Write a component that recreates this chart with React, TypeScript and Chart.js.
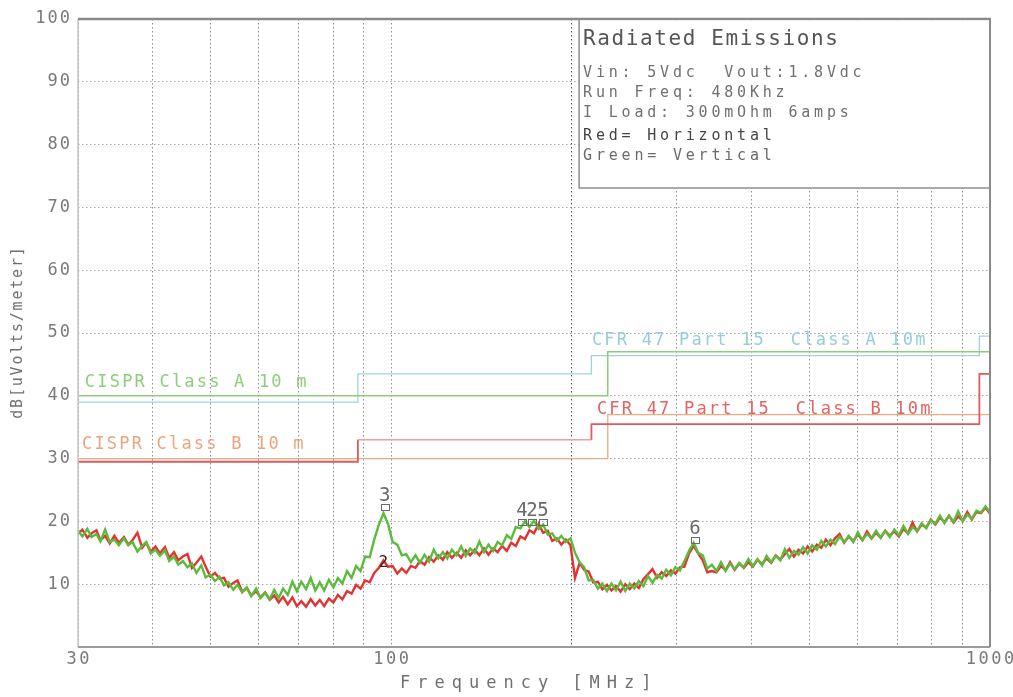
import React, { useEffect, useRef } from 'react';
import { Chart, registerables } from 'chart.js';

Chart.register(...registerables);

const FONT = '"DejaVu Sans Mono", "Liberation Mono", monospace';

// ---------------- data ----------------
const freqs = [
  30.0, 30.5, 31.1, 31.6, 32.2, 32.7, 33.3, 33.9, 34.5, 35.1,
  35.8, 36.4, 37.0, 37.7, 38.4, 39.0, 39.7, 40.4, 41.1, 41.9,
  42.6, 43.4, 44.1, 44.9, 45.7, 46.5, 47.3, 48.2, 49.0, 49.9,
  50.8, 51.7, 52.6, 53.5, 54.5, 55.4, 56.4, 57.4, 58.4, 59.5,
  60.5, 61.6, 62.7, 63.8, 64.9, 66.0, 67.2, 68.4, 69.6, 70.8,
  72.1, 73.4, 74.7, 76.0, 77.3, 78.7, 80.1, 81.5, 82.9, 84.4,
  85.9, 87.4, 88.9, 90.5, 92.1, 93.7, 95.4, 97.1, 98.8, 100.6,
  102.4, 104.2, 106.0, 107.9, 109.8, 111.7, 113.7, 115.7, 117.8, 119.9,
  122.0, 124.1, 126.3, 128.6, 130.9, 133.2, 135.5, 137.9, 140.4, 142.9,
  145.4, 148.0, 150.6, 153.2, 156.0, 158.7, 161.5, 164.4, 167.3, 170.2,
  173.2, 176.3, 179.4, 182.6, 185.8, 189.1, 192.4, 195.8, 199.3, 202.8,
  206.4, 210.0, 213.8, 217.5, 221.4, 225.3, 229.3, 233.3, 237.4, 241.6,
  246.0, 250.3, 254.7, 259.2, 263.8, 268.5, 273.2, 278.1, 283.0, 288.0,
  293.2, 298.3, 303.6, 308.9, 314.4, 320.0, 325.6, 331.4, 337.2, 343.2,
  349.3, 355.5, 361.8, 368.1, 374.6, 381.3, 388.0, 394.9, 401.9, 409.0,
  416.3, 423.6, 431.1, 438.7, 446.5, 454.4, 462.4, 470.6, 478.9, 487.4,
  496.1, 504.8, 513.8, 522.8, 532.1, 541.5, 551.1, 560.8, 570.7, 580.8,
  591.2, 601.6, 612.3, 623.1, 634.1, 645.3, 656.7, 668.3, 680.1, 692.2,
  704.5, 716.9, 729.6, 742.5, 755.6, 769.0, 782.6, 796.4, 810.5, 824.8,
  839.5, 854.3, 869.4, 884.8, 900.4, 916.4, 932.6, 949.1, 965.9, 983.0, 1000,
];

// Green = Vertical polarisation
const verticalLevels = [
  18.6, 17.6, 18.8, 17.5, 18.0, 16.8, 18.7, 16.7, 17.1, 16.2,
  17.3, 16.2, 16.7, 15.2, 16.1, 16.7, 14.9, 15.5, 14.5, 15.4,
  13.7, 14.4, 13.1, 13.7, 12.7, 13.3, 11.8, 13.0, 11.1, 11.5,
  10.5, 11.2, 9.8, 10.3, 9.1, 9.9, 8.7, 9.5, 8.1, 9.3,
  7.8, 8.6, 7.6, 9.1, 7.8, 9.3, 8.3, 10.4, 8.9, 10.4,
  9.2, 11.0, 9.0, 10.3, 9.0, 10.7, 9.5, 11.0, 10.1, 12.1,
  11.0, 12.9, 12.1, 14.4, 14.3, 17.1, 19.5, 21.3, 19.6, 16.7,
  16.3, 14.6, 14.8, 13.5, 14.6, 13.4, 14.7, 13.6, 15.5, 14.1,
  15.1, 14.1, 15.5, 14.6, 16.0, 14.5, 15.7, 15.0, 16.8, 15.1,
  16.3, 15.3, 16.7, 16.2, 17.8, 17.2, 19.1, 18.9, 20.0, 19.1,
  20.1, 18.8, 19.5, 17.9, 18.1, 16.9, 17.7, 16.7, 17.3, 15.0,
  13.5, 12.7, 10.6, 10.7, 9.3, 10.1, 8.9, 10.1, 9.0, 10.4,
  8.9, 10.1, 9.3, 10.5, 9.7, 11.3, 10.2, 11.5, 10.9, 12.3,
  11.4, 12.7, 12.2, 13.7, 15.3, 16.6, 15.0, 14.6, 12.5, 13.1,
  12.1, 13.5, 12.1, 13.3, 12.4, 13.4, 12.7, 14.0, 12.9, 14.0,
  13.0, 14.5, 13.5, 14.5, 13.8, 15.6, 14.2, 15.3, 14.7, 15.9,
  14.9, 16.2, 15.5, 16.9, 16.0, 17.1, 16.4, 17.6, 16.7, 17.7,
  16.7, 18.3, 17.0, 18.0, 17.3, 18.5, 17.4, 18.5, 17.5, 18.7,
  17.8, 19.3, 18.0, 19.1, 18.5, 19.7, 18.9, 20.2, 19.6, 20.9,
  19.7, 20.9, 19.9, 21.6, 20.0, 21.1, 20.4, 21.7, 21.4, 22.4, 21.4,
];

// Red = Horizontal polarisation
const horizontalLevels = [
  18.0, 18.7, 17.4, 18.1, 18.6, 17.0, 17.7, 16.5, 17.7, 16.6,
  17.5, 16.3, 17.0, 18.2, 15.8, 16.6, 15.2, 16.0, 14.9, 15.9,
  14.2, 15.1, 13.8, 14.4, 14.8, 12.6, 13.4, 14.4, 12.8, 11.2,
  11.8, 10.9, 11.0, 9.6, 10.2, 10.6, 8.8, 9.4, 8.2, 8.9,
  7.9, 8.7, 7.5, 8.2, 7.1, 8.0, 6.8, 7.9, 6.5, 7.3,
  6.4, 7.6, 6.6, 7.5, 6.5, 7.7, 7.1, 8.3, 7.6, 8.9,
  8.5, 9.9, 9.3, 10.6, 10.3, 11.8, 12.6, 13.8, 12.8, 12.9,
  11.7, 12.5, 11.8, 12.9, 12.6, 13.7, 13.1, 14.3, 13.6, 14.6,
  13.9, 15.1, 14.2, 15.0, 14.2, 15.4, 14.6, 15.5, 14.6, 15.7,
  14.7, 15.7, 15.1, 16.1, 15.3, 16.6, 16.1, 17.6, 17.2, 18.6,
  18.1, 19.6, 18.2, 18.5, 16.9, 17.3, 16.3, 17.1, 16.2, 11.0,
  13.4, 12.3, 12.0, 10.3, 10.4, 9.2, 9.9, 9.0, 9.7, 8.8,
  10.0, 9.2, 10.1, 9.4, 10.8, 11.6, 12.4, 11.0, 11.9, 11.3,
  12.2, 11.7, 12.7, 12.8, 14.9, 16.1, 14.9, 13.8, 11.9, 12.1,
  11.9, 12.9, 12.2, 13.5, 12.3, 13.3, 12.6, 13.5, 12.8, 13.9,
  13.2, 14.1, 13.4, 14.6, 13.9, 14.8, 15.6, 14.4, 15.5, 14.9,
  16.0, 15.2, 16.3, 15.8, 17.1, 16.2, 17.3, 18.0, 16.6, 17.6,
  16.9, 17.9, 17.0, 18.4, 17.3, 18.2, 17.4, 18.5, 17.7, 18.4,
  17.6, 18.8, 18.1, 19.8, 18.4, 19.5, 19.0, 20.3, 19.5, 20.6,
  19.9, 20.9, 19.8, 20.8, 20.1, 21.5, 20.3, 21.5, 21.3, 22.2, 21.2,
];

// Limit lines (step functions)
const cisprAFreq = [30, 230, 230, 1000];
const cisprALevel = [40, 40, 47, 47];
const cisprBFreq = [30, 230, 230, 1000];
const cisprBLevel = [30, 30, 37, 37];
const fccAFreq = [30, 88, 88, 216, 216, 960, 960, 1000];
const fccALevel = [39, 39, 43.5, 43.5, 46.4, 46.4, 49.5, 49.5];
const fccBFreq = [30, 88, 88, 216, 216, 960, 960, 1000];
const fccBLevel = [29.5, 29.5, 33, 33, 35.5, 35.5, 43.5, 43.5];

// Peak markers
const markerFreq = [97.6, 97.0, 165.3, 171.8, 179.3, 321.6];
const markerLevel = [22.3, 13.6, 19.9, 19.9, 19.9, 17.0];
const markerLabel = ['3', '2', '4', '2', '5', '6'];

// Ticks
const xGridTicks = [30, 40, 50, 60, 70, 80, 90, 100, 200, 300, 400, 500, 600, 700, 800, 900, 1000];
const xTickLabels = [30, 100, 1000];
const yTickLabels = [10, 20, 30, 40, 50, 60, 70, 80, 90, 100];

const infoTitle = 'Radiated Emissions';
const infoLines = [
  'Vin: 5Vdc  Vout:1.8Vdc',
  'Run Freq: 480Khz',
  'I Load: 300mOhm 6amps',
  'Red= Horizontal',
  'Green= Vertical',
];

const limitLabels = [
  { text: 'CISPR Class A 10 m', f: 30.8, v: 41.4, color: '#8fcc7c' },
  { text: 'CISPR Class B 10 m', f: 30.46, v: 31.5, color: '#eba57c' },
  { text: 'CFR 47 Part 15  Class A 10m', f: 216.4, v: 48.1, color: '#96cdd6' },
  { text: 'CFR 47 Part 15  Class B 10m', f: 220.6, v: 37.1, color: '#e06464' },
];

// ---------------- helpers ----------------
function drawText(
  ctx: CanvasRenderingContext2D,
  s: string,
  x: number,
  y: number,
  size: number,
  color: string,
  spacing: number,
  align: CanvasTextAlign = 'left',
  baseline: CanvasTextBaseline = 'alphabetic'
) {
  ctx.save();
  ctx.font = `${size}px ${FONT}`;
  (ctx as any).letterSpacing = `${spacing}px`;
  ctx.fillStyle = color;
  ctx.textAlign = align;
  ctx.textBaseline = baseline;
  let dx = 0;
  if (align === 'right') dx = spacing;
  else if (align === 'center') dx = spacing / 2;
  ctx.fillText(s, x + dx, y);
  ctx.restore();
}

const overlayPlugin = {
  id: 'overlay',
  afterDraw(chart: any) {
    const ctx: CanvasRenderingContext2D = chart.ctx;
    const a = chart.chartArea;
    const xs = chart.scales.x;
    const ys = chart.scales.y;

    // limit labels
    limitLabels.forEach((l) => {
      drawText(ctx, l.text, xs.getPixelForValue(l.f), ys.getPixelForValue(l.v), 17, l.color, 2.2);
    });

    // markers
    ctx.save();
    markerFreq.forEach((f, i) => {
      const px = xs.getPixelForValue(f);
      const py = ys.getPixelForValue(markerLevel[i]);
      if (i === 1) {
        drawText(ctx, markerLabel[i], px, py + 5, 16, '#3a2020', 0, 'center');
        return;
      }
      ctx.strokeStyle = '#6a6a6a';
      ctx.lineWidth = 1;
      ctx.strokeRect(Math.round(px - 4) + 0.5, Math.round(py - 3) + 0.5, 8, 6);
      drawText(ctx, markerLabel[i], px, py - 6, 19, '#6a6a6a', 0, 'center');
    });
    ctx.restore();

    // borders
    ctx.save();
    ctx.strokeStyle = '#c4c4c4';
    ctx.lineWidth = 1.5;
    ctx.beginPath();
    ctx.moveTo(a.left, a.top);
    ctx.lineTo(a.left, a.bottom);
    ctx.stroke();
    ctx.strokeStyle = '#9a9a9a';
    ctx.lineWidth = 2;
    ctx.beginPath();
    ctx.moveTo(a.left, a.bottom);
    ctx.lineTo(a.right, a.bottom);
    ctx.stroke();
    ctx.strokeStyle = '#8a8a8a';
    ctx.beginPath();
    ctx.moveTo(a.right, a.top);
    ctx.lineTo(a.right, a.bottom);
    ctx.stroke();
    ctx.lineWidth = 2.5;
    ctx.beginPath();
    ctx.moveTo(a.left, a.top);
    ctx.lineTo(a.right + 1, a.top);
    ctx.stroke();
    ctx.restore();

    // info box
    const bl = xs.getPixelForValue(206);
    const bb = ys.getPixelForValue(73.1);
    ctx.save();
    ctx.fillStyle = '#ffffff';
    ctx.fillRect(bl, a.top + 1.5, a.right - bl - 1, bb - a.top - 1.5);
    ctx.strokeStyle = '#8e8e8e';
    ctx.lineWidth = 1.5;
    ctx.beginPath();
    ctx.moveTo(bl, a.top);
    ctx.lineTo(bl, bb);
    ctx.lineTo(a.right, bb);
    ctx.stroke();
    ctx.restore();
    drawText(ctx, infoTitle, bl + 4, a.top + 26, 21, '#555555', 1.6);
    const lineBase = [58, 78, 98, 121, 141];
    const lineColor = ['#707070', '#707070', '#707070', '#444444', '#6a6a6a'];
    infoLines.forEach((s, i) => {
      drawText(ctx, s, bl + 4, a.top + lineBase[i], 15, lineColor[i], 3.8);
    });

    // y tick labels
    yTickLabels.forEach((v) => {
      drawText(ctx, String(v), 70, ys.getPixelForValue(v), 17, '#7a7a7a', 2, 'right', 'middle');
    });
    // x tick labels
    xTickLabels.forEach((v) => {
      drawText(ctx, String(v), xs.getPixelForValue(v), a.bottom + 17, 17, '#7a7a7a', 2.5, 'center');
    });

    // axis titles
    drawText(ctx, 'Frequency [MHz]', 400, 688, 17, '#707070', 7);
    ctx.save();
    ctx.translate(22, (a.top + a.bottom) / 2);
    ctx.rotate(-Math.PI / 2);
    drawText(ctx, 'dB[uVolts/meter]', 0, 0, 15, '#707070', 1.8, 'center');
    ctx.restore();
  },
};

function pts(xsArr: number[], ysArr: number[]) {
  return xsArr.map((x, i) => ({ x, y: ysArr[i] }));
}

export default function App() {
  const ref = useRef<HTMLCanvasElement | null>(null);

  useEffect(() => {
    if (!ref.current) return;
    const chart = new Chart(ref.current, {
      type: 'line',
      data: {
        datasets: [
          {
            label: 'Vertical',
            data: pts(freqs, verticalLevels),
            borderColor: '#5cbb3c',
            borderWidth: 2.4,
            pointRadius: 0,
            order: 0,
          },
          {
            label: 'Horizontal',
            data: pts(freqs, horizontalLevels),
            borderColor: '#e23232',
            borderWidth: 2.4,
            pointRadius: 0,
            order: 1,
          },
          {
            label: 'CISPR Class A 10 m',
            data: pts(cisprAFreq, cisprALevel),
            borderColor: '#8fcc7c',
            borderWidth: 1.5,
            pointRadius: 0,
            order: 2,
          },
          {
            label: 'CISPR Class B 10 m',
            data: pts(cisprBFreq, cisprBLevel),
            borderColor: '#eeaa80',
            borderWidth: 1.3,
            pointRadius: 0,
            order: 3,
          },
          {
            label: 'CFR 47 Part 15 Class A 10m',
            data: pts(fccAFreq, fccALevel),
            borderColor: '#9fd3da',
            borderWidth: 1.3,
            pointRadius: 0,
            order: 4,
          },
          {
            label: 'CFR 47 Part 15 Class B 10m',
            data: pts(fccBFreq, fccBLevel),
            borderColor: '#e06060',
            borderWidth: 1.8,
            pointRadius: 0,
            order: 1.5,
            segment: {
              borderColor: (c: any) => (c.p0.parsed.y === 33 && c.p1.parsed.y === 33 ? '#eba0a0' : '#e05a5a'),
              borderWidth: (c: any) => (c.p0.parsed.y === 33 && c.p1.parsed.y === 33 ? 1.3 : 1.8),
            },
          },
        ],
      },
      options: {
        responsive: false,
        animation: false,
        layout: { padding: { left: 78, top: 19, right: 23, bottom: 50 } },
        plugins: {
          legend: { display: false },
          tooltip: { enabled: false },
        },
        scales: {
          x: {
            type: 'logarithmic',
            min: 30,
            max: 1000,
            afterBuildTicks: (s: any) => {
              s.ticks = xGridTicks.map((v) => ({ value: v }));
            },
            ticks: { display: false },
            grid: {
              drawTicks: false,
              color: (c: any) => (c.tick && c.tick.value === 200 ? '#505050' : '#8c8c8c'),
              lineWidth: 1,
            },
            border: { display: false, dash: [1.5, 2.5] },
          },
          y: {
            type: 'linear',
            min: 0,
            max: 100,
            ticks: { display: false, stepSize: 10 },
            grid: { drawTicks: false, color: '#a8a8a8', lineWidth: 1 },
            border: { display: false, dash: [1.5, 2.5] },
          },
        },
      } as any,
      plugins: [overlayPlugin],
    });
    return () => chart.destroy();
  }, []);

  return (
    <div style={{ position: 'fixed', left: 0, top: 0, width: 1013, height: 697, background: '#ffffff' }}>
      <canvas ref={ref} width={1013} height={697} style={{ display: 'block' }} />
    </div>
  );
}
